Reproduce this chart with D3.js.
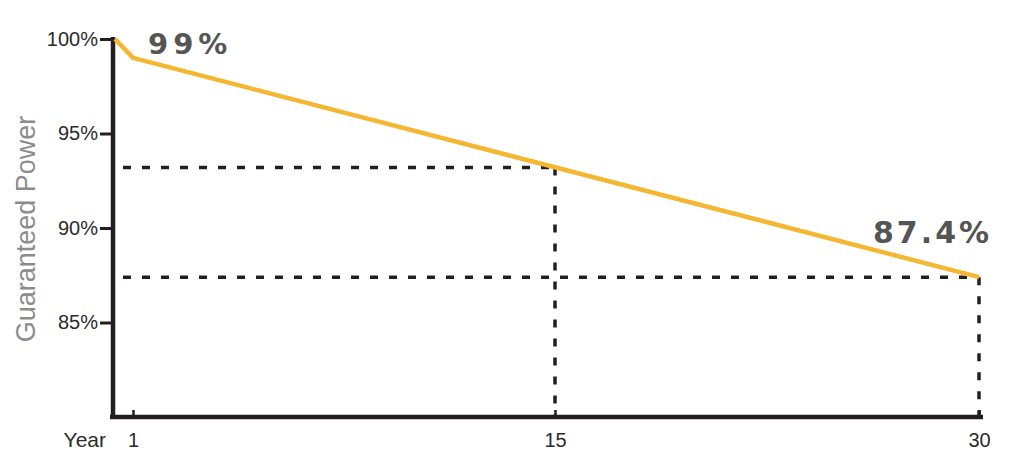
<!DOCTYPE html>
<html>
<head>
<meta charset="utf-8">
<script src="https://cdn.jsdelivr.net/npm/d3@7"></script>
<style>
  body { margin: 0; background: #fff; }
  svg { display: block; }
</style>
</head>
<body>
<div id="chart"></div>
<script>
/* global d3 */

// guaranteed power curve (year, %)
var years = [0, 1, 30];
var power = [100, 99, 87.4];

// dotted guide lines (year, %)
var guideYears = [15, 30];
var guidePower = [93.2, 87.4];

var yTicks = [100, 95, 90, 85];
var xTicks = [1, 15, 30];

// callouts
var calloutText = ['99%', '87.4%'];

var w = 1035,
h = 473;

var svg = d3.select('#chart').
append('svg').
attr('width', w).
attr('height', h);

// picture spacing is not even between 1 and 15 / 15 and 30
var x = d3.scaleLinear().
domain([0, 1, 15, 30]).
range([115, 133, 555, 979]);

var y = d3.scaleLinear().
domain([80, 100]).
range([417, 39]);

var ink = '#231f20';
var sans = "'Liberation Sans', Arial, sans-serif";
var wide = "'DejaVu Sans', Verdana, sans-serif";

// guides
guideYears.forEach(function (yr, i) {
  var gx = x(yr), gy = y(guidePower[i]);
  svg.append('line').
  attr('x1', 123).attr('x2', gx).
  attr('y1', gy).attr('y2', gy).
  attr('stroke', ink).attr('stroke-width', 3.5).
  attr('stroke-dasharray', '8,11');
  svg.append('line').
  attr('x1', gx).attr('x2', gx).
  attr('y1', gy).attr('y2', y(80)).
  attr('stroke', ink).attr('stroke-width', 3.5).
  attr('stroke-dasharray', '8,11');
});

// axes
var yAxis = d3.axisLeft(y).
tickValues(yTicks).
tickFormat(d => d + '%').
tickSize(13).
tickPadding(2);

var gy = svg.append('g').
attr('transform', 'translate(113,0)').
call(yAxis);
gy.select('.domain').remove();
gy.selectAll('line').attr('stroke', ink).attr('stroke-width', 3);
gy.selectAll('text').
attr('font-family', sans).
attr('font-size', 20).
attr('fill', '#2b2b2b');

svg.append('line').
attr('x1', 113).attr('x2', 113).
attr('y1', 37).attr('y2', 419).
attr('stroke', ink).attr('stroke-width', 4.5);

svg.append('line').
attr('x1', 110).attr('x2', 983).
attr('y1', 417).attr('y2', 417).
attr('stroke', ink).attr('stroke-width', 4.5);

var xAxis = d3.axisBottom(x).
tickValues(xTicks).
tickFormat(d3.format('d')).
tickSizeInner(-7).
tickSizeOuter(0).
tickPadding(16);

var gx = svg.append('g').
attr('transform', 'translate(0,417)').
call(xAxis);
gx.select('.domain').remove();
gx.selectAll('line').attr('stroke', ink).attr('stroke-width', 2.5);
gx.selectAll('text').
attr('font-family', sans).
attr('font-size', 20).
attr('fill', '#2b2b2b');

svg.append('text').
attr('x', 106).
attr('y', 447).
attr('text-anchor', 'end').
attr('font-family', sans).
attr('font-size', 21).
attr('fill', '#2b2b2b').
text('Year');

svg.append('text').
attr('transform', 'translate(35,229) rotate(-90)').
attr('text-anchor', 'middle').
attr('font-family', sans).
attr('font-size', 27).
attr('fill', '#8c8c8c').
text('Guaranteed Power');

// curve
var line = d3.line().
x((d, i) => x(years[i])).
y(d => y(d));

svg.append('path').
datum(power).
attr('d', line).
attr('fill', 'none').
attr('stroke', '#f5b731').
attr('stroke-width', 4.5).
attr('stroke-linejoin', 'round');

// callouts
svg.append('text').
attr('x', 148).
attr('y', 54).
attr('font-family', wide).
attr('font-weight', 'bold').
attr('font-size', 29).
attr('letter-spacing', 5).
attr('fill', '#555').
text(calloutText[0]);

svg.append('text').
attr('x', 873).
attr('y', 243).
attr('font-family', wide).
attr('font-weight', 'bold').
attr('font-size', 30).
attr('letter-spacing', 3).
attr('fill', '#555').
text(calloutText[1]);
</script>
</body>
</html>
